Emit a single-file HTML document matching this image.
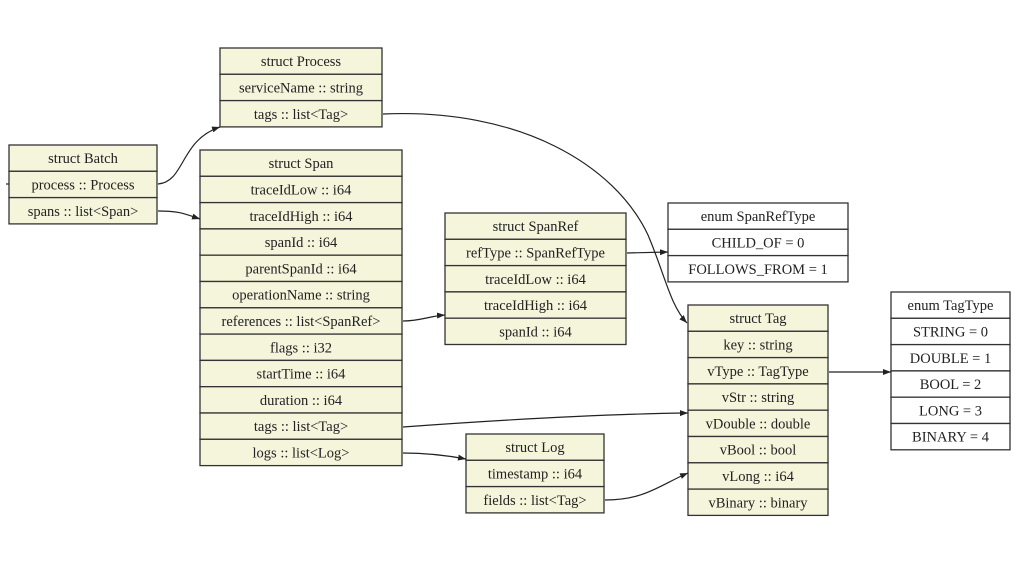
<!DOCTYPE html>
<html><head><meta charset="utf-8"><style>
html,body{margin:0;padding:0;background:#fff;}
svg{display:block;}
text{font-family:"Liberation Serif",serif;font-size:14.5px;fill:#222;text-anchor:middle;}
.b rect{fill:#f5f5dc;stroke:#333;stroke-width:1.3;}
.w rect{fill:#fff;stroke:#333;stroke-width:1.3;}
.e{fill:none;stroke:#222;stroke-width:1.2;}
</style></head><body>
<svg width="1024" height="576" viewBox="0 0 1024 576" xmlns="http://www.w3.org/2000/svg">
<defs><marker id="a" markerWidth="8" markerHeight="6" refX="8" refY="3" orient="auto" markerUnits="userSpaceOnUse"><path d="M0,0 L8,3 L0,6 z" fill="#222"/></marker></defs>

<!-- Process -->
<g class="b">
<rect x="220" y="48" width="162" height="26.3"/><rect x="220" y="74.3" width="162" height="26.3"/><rect x="220" y="100.6" width="162" height="26.3"/>
<text x="301" y="66">struct Process</text><text x="301" y="92.5">serviceName :: string</text><text x="301" y="119">tags :: list&lt;Tag&gt;</text>
</g>
<!-- Batch -->
<g class="b">
<rect x="9" y="145" width="148" height="26.3"/><rect x="9" y="171.3" width="148" height="26.3"/><rect x="9" y="197.6" width="148" height="26.3"/>
<text x="83" y="163">struct Batch</text><text x="83" y="189.5">process :: Process</text><text x="83" y="216">spans :: list&lt;Span&gt;</text>
</g>
<!-- Span -->
<g class="b">
<rect x="200" y="150" width="202" height="26.3"/><rect x="200" y="176.3" width="202" height="26.3"/><rect x="200" y="202.6" width="202" height="26.3"/><rect x="200" y="228.9" width="202" height="26.3"/><rect x="200" y="255.2" width="202" height="26.3"/><rect x="200" y="281.5" width="202" height="26.3"/><rect x="200" y="307.8" width="202" height="26.3"/><rect x="200" y="334.1" width="202" height="26.3"/><rect x="200" y="360.4" width="202" height="26.3"/><rect x="200" y="386.7" width="202" height="26.3"/><rect x="200" y="413" width="202" height="26.3"/><rect x="200" y="439.3" width="202" height="26.3"/>
<text x="301" y="168">struct Span</text><text x="301" y="194.5">traceIdLow :: i64</text><text x="301" y="220.8">traceIdHigh :: i64</text><text x="301" y="247.1">spanId :: i64</text><text x="301" y="273.4">parentSpanId :: i64</text><text x="301" y="299.7">operationName :: string</text><text x="301" y="326">references :: list&lt;SpanRef&gt;</text><text x="301" y="352.3">flags :: i32</text><text x="301" y="378.6">startTime :: i64</text><text x="301" y="404.9">duration :: i64</text><text x="301" y="431.2">tags :: list&lt;Tag&gt;</text><text x="301" y="457.5">logs :: list&lt;Log&gt;</text>
</g>
<!-- SpanRef -->
<g class="b">
<rect x="445" y="213" width="181" height="26.3"/><rect x="445" y="239.3" width="181" height="26.3"/><rect x="445" y="265.6" width="181" height="26.3"/><rect x="445" y="291.9" width="181" height="26.3"/><rect x="445" y="318.2" width="181" height="26.3"/>
<text x="535.5" y="231">struct SpanRef</text><text x="535.5" y="257.5">refType :: SpanRefType</text><text x="535.5" y="283.8">traceIdLow :: i64</text><text x="535.5" y="310.1">traceIdHigh :: i64</text><text x="535.5" y="336.4">spanId :: i64</text>
</g>
<!-- SpanRefType -->
<g class="w">
<rect x="668" y="203" width="180" height="26.3"/><rect x="668" y="229.3" width="180" height="26.3"/><rect x="668" y="255.6" width="180" height="26.3"/>
<text x="758" y="221">enum SpanRefType</text><text x="758" y="247.5">CHILD_OF = 0</text><text x="758" y="273.8">FOLLOWS_FROM = 1</text>
</g>
<!-- Tag -->
<g class="b">
<rect x="688" y="305" width="140" height="26.3"/><rect x="688" y="331.3" width="140" height="26.3"/><rect x="688" y="357.6" width="140" height="26.3"/><rect x="688" y="383.9" width="140" height="26.3"/><rect x="688" y="410.2" width="140" height="26.3"/><rect x="688" y="436.5" width="140" height="26.3"/><rect x="688" y="462.8" width="140" height="26.3"/><rect x="688" y="489.1" width="140" height="26.3"/>
<text x="758" y="323">struct Tag</text><text x="758" y="349.5">key :: string</text><text x="758" y="375.8">vType :: TagType</text><text x="758" y="402.1">vStr :: string</text><text x="758" y="428.4">vDouble :: double</text><text x="758" y="454.7">vBool :: bool</text><text x="758" y="481">vLong :: i64</text><text x="758" y="507.3">vBinary :: binary</text>
</g>
<!-- TagType -->
<g class="w">
<rect x="891" y="292" width="119" height="26.3"/><rect x="891" y="318.3" width="119" height="26.3"/><rect x="891" y="344.6" width="119" height="26.3"/><rect x="891" y="370.9" width="119" height="26.3"/><rect x="891" y="397.2" width="119" height="26.3"/><rect x="891" y="423.5" width="119" height="26.3"/>
<text x="950.5" y="310">enum TagType</text><text x="950.5" y="336.5">STRING = 0</text><text x="950.5" y="362.8">DOUBLE = 1</text><text x="950.5" y="389.1">BOOL = 2</text><text x="950.5" y="415.4">LONG = 3</text><text x="950.5" y="441.7">BINARY = 4</text>
</g>
<!-- Log -->
<g class="b">
<rect x="466" y="434" width="138" height="26.3"/><rect x="466" y="460.3" width="138" height="26.3"/><rect x="466" y="486.6" width="138" height="26.3"/>
<text x="535" y="452">struct Log</text><text x="535" y="478.5">timestamp :: i64</text><text x="535" y="504.8">fields :: list&lt;Tag&gt;</text>
</g>

<!-- edges -->
<path class="e" d="M6,184 L9,184"/>
<path class="e" marker-end="url(#a)" d="M158,184 C185,182 180,140 220,127"/>
<path class="e" marker-end="url(#a)" d="M158,211 C180,211 185,214 200,219"/>
<path class="e" marker-end="url(#a)" d="M383,114 C520,108 615,165 648,235 C665,275 670,305 687,323"/>
<path class="e" marker-end="url(#a)" d="M403,321 C420,321 430,316 445,315"/>
<path class="e" marker-end="url(#a)" d="M627,253 L668,252"/>
<path class="e" marker-end="url(#a)" d="M403,427 C500,420 600,414 688,413"/>
<path class="e" marker-end="url(#a)" d="M403,453 C430,453 450,456 466,459"/>
<path class="e" marker-end="url(#a)" d="M605,500 C645,500 660,485 688,473"/>
<path class="e" marker-end="url(#a)" d="M829,372 L891,372"/>
</svg>
</body></html>
